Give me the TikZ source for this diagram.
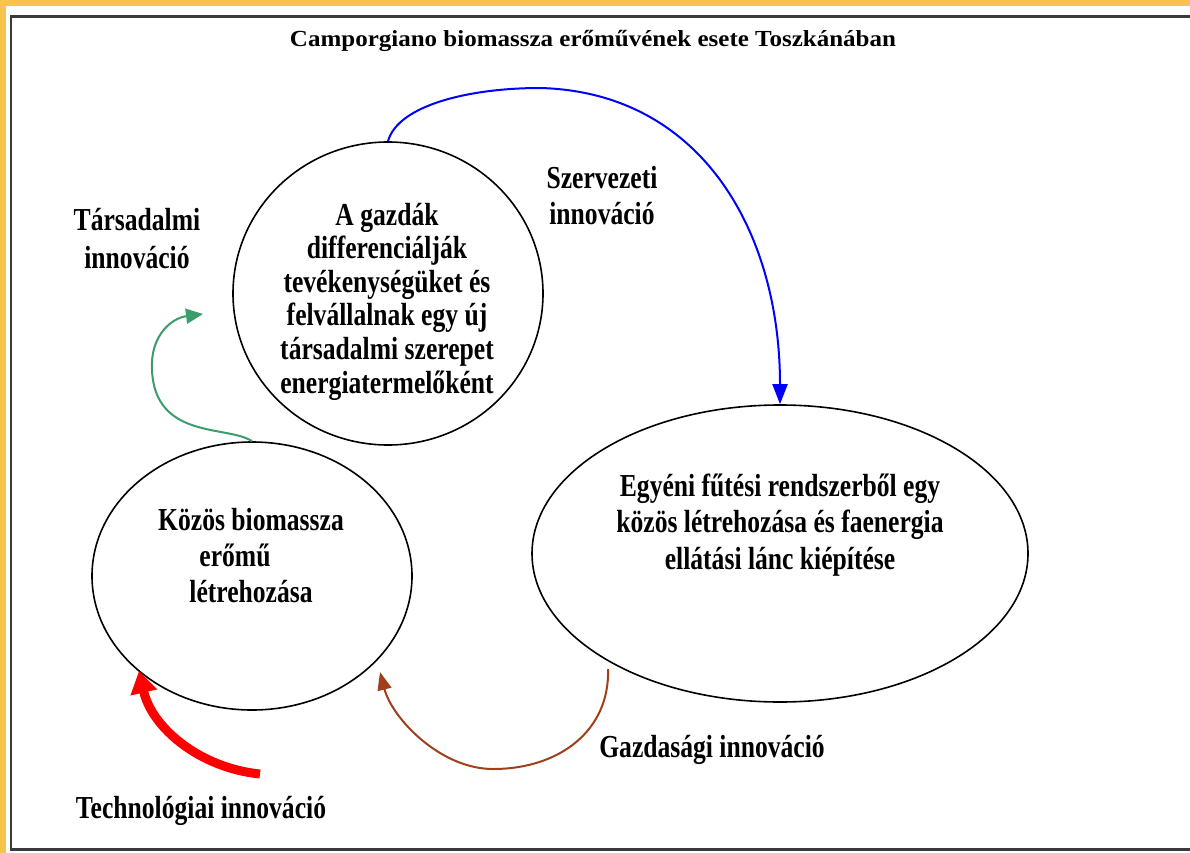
\documentclass[tikz,border=0pt]{standalone}
\usepackage{fontspec}
\setmainfont{Liberation Serif}
\usepackage{graphicx}
\usetikzlibrary{arrows.meta,shapes.geometric}
\definecolor{frameyellow}{HTML}{F6C44C}
\definecolor{framegray}{HTML}{3A3A3A}
\definecolor{innoblue}{HTML}{0000FF}
\definecolor{innogreen}{HTML}{3C9D6C}
\definecolor{innobrown}{HTML}{A0401A}
\definecolor{innored}{HTML}{FF0000}
\newcommand\lbl[4]{\scalebox{#1}[#2]{\fontsize{20}{#3}\selectfont\bfseries\begin{tabular}[t]{@{}c@{}}#4\end{tabular}}}
\tikzset{
  txt/.style={inner sep=0pt, anchor=base},
  oval/.style={ellipse, draw=black, line width=1.6pt, inner sep=0pt},
  conn/.style={line width=2pt},
}
\begin{document}
\begin{tikzpicture}[x=1pt,y=-1pt]
\useasboundingbox (0,0) rectangle (1190,853);
\clip (0,0) rectangle (1190,853);
\fill[white] (0,0) rectangle (1190,853);
% yellow border
\fill[frameyellow] (0,0) rectangle (1190,6);
\fill[frameyellow] (0,0) rectangle (6,853);
% frame
\draw[framegray, line width=2.5pt] (11.2,16.5) rectangle (1205,849.6);

% ellipses
\node[oval, minimum width=310pt, minimum height=303pt] (top) at (388,293.5) {};
\node[oval, minimum width=320pt, minimum height=268pt] (left) at (252,576) {};
\node[oval, minimum width=496pt, minimum height=297pt] (right) at (780,553.5) {};

% texts
\node[txt] (title) at (593,47) {\lbl{1.25}{1.15}{24}{Camporgiano biomassza erőművének esete Toszkánában}};
\node[txt] (tars) at (137,230) {\lbl{1.28}{1.6}{23.75}{Társadalmi\\innováció}};
\node[txt] (szerv) at (602,188) {\lbl{1.28}{1.6}{23.1}{Szervezeti\\innováció}};
\node[txt] (toptxt) at (387,225) {\lbl{1.28}{1.6}{21}{A gazdák\\differenciálják\\tevékenységüket és\\felvállalnak egy új\\társadalmi szerepet\\energiatermelőként}};
\node[txt] (lefttxt) at (251,530) {\lbl{1.28}{1.6}{22.5}{Közös biomassza\\erőmű\hspace*{25pt}\\létrehozása}};
\node[txt] (righttxt) at (780,496) {\lbl{1.28}{1.6}{23.1}{Egyéni fűtési rendszerből egy\\közös létrehozása és faenergia\\ellátási lánc kiépítése}};
\node[txt] (gazd) at (712,757) {\lbl{1.28}{1.6}{23}{Gazdasági innováció}};
\node[txt] (tech) at (201,818) {\lbl{1.28}{1.6}{23}{Technológiai innováció}};

% connectors
\coordinate (bS) at (top.north);
\coordinate (bE) at (right.north);
\draw[conn, innoblue, -{Triangle[length=20pt,width=15pt]}]
  (bS) .. controls (398,105) and (470,88) .. (540,88)
       .. controls (700,92) and (780,230) .. (bE);

\coordinate (gS) at (left.north);
\coordinate (gE) at (203,314);
\draw[conn, innogreen, -{Triangle[length=17pt,width=15pt]}]
  (gS) .. controls (228,425) and (155,440) .. (152,370)
       .. controls (150,335) and (172,318) .. (gE);

\coordinate (brS) at (608,669);
\coordinate (brE) at (380,672);
\draw[conn, innobrown, -{Triangle[length=18pt,width=14pt]}]
  (brS) .. controls (610,730) and (560,769) .. (493,769)
        .. controls (440,769) and (392,718) .. (brE);

\coordinate (rS) at (260,774);
\coordinate (rE) at (139,671);
\draw[innored, line width=9pt, -{Triangle[length=22pt,width=26pt]}]
  (rS) .. controls (200,768) and (152,728) .. (rE);
\end{tikzpicture}
\end{document}
